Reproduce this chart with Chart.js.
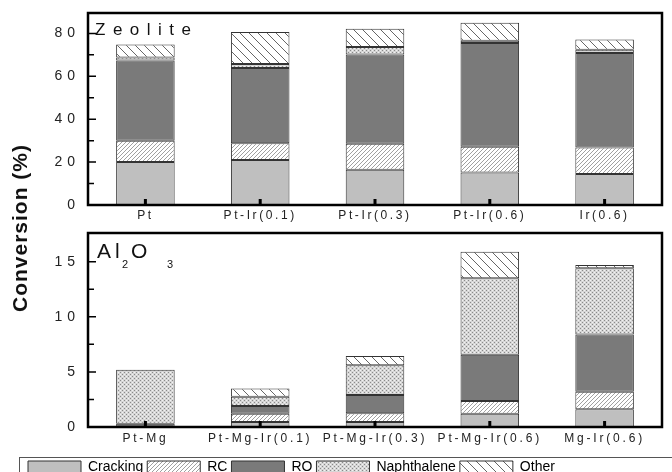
<!DOCTYPE html>
<html>
<head>
<meta charset="utf-8">
<script src="https://cdn.jsdelivr.net/npm/chart.js@4.4.1/dist/chart.umd.min.js"></script>
<style>
  html, body { margin: 0; padding: 0; background: #fff; overflow: hidden; width: 672px; height: 472px; }
  #wrap { position: relative; width: 672px; height: 472px; }
  #top { position: absolute; left: 0; top: 0; }
  #bottom { position: absolute; left: 0; top: 228px; }
  #ytitle {
    position: absolute; left: 20px; top: 228px;
    transform: translate(-50%, -50%) rotate(-90deg);
    font: bold 21px "Liberation Sans", Arial, sans-serif;
    letter-spacing: 1px; white-space: nowrap; color: #111;
  }
</style>
</head>
<body>
<div id="wrap">
  <canvas id="top" width="672" height="228"></canvas>
  <canvas id="bottom" width="672" height="256"></canvas>
  <div id="ytitle">Conversion (%)</div>
</div>
<script>
// zeolite supported catalysts (top panel)
const zeoliteCats = ["Pt", "Pt-Ir(0.1)", "Pt-Ir(0.3)", "Pt-Ir(0.6)", "Ir(0.6)"];
const zeoCracking    = [20.0, 21.0, 16.4, 15.1, 14.5];
const zeoRC          = [10.0,  7.8, 12.1, 12.1, 12.3];
const zeoRO          = [37.3, 35.1, 41.6, 48.3, 44.1];
const zeoNaphthalene = [ 1.5,  1.8,  3.6,  1.1,  1.5];
const zeoOther       = [ 6.0, 15.0,  8.4,  8.3,  4.7];

// alumina supported catalysts (bottom panel)
const aluminaCats = ["Pt-Mg", "Pt-Mg-Ir(0.1)", "Pt-Mg-Ir(0.3)", "Pt-Mg-Ir(0.6)", "Mg-Ir(0.6)"];
const aluCracking    = [0.0, 0.45, 0.45, 1.2, 1.6];
const aluRC          = [0.0, 0.75, 0.8,  1.15, 1.6];
const aluRO          = [0.3, 0.7,  1.65, 4.2, 5.2];
const aluNaphthalene = [4.9, 0.85, 2.7,  6.95, 6.0];
const aluOther       = [0.0, 0.75, 0.85, 2.4, 0.3];

const seriesNames = ["Cracking", "RC", "RO", "Naphthalene", "Other"];

const FONT = '"Liberation Sans", Arial, sans-serif';

// fill patterns
function hatch(size, forward, color) {
  const c = document.createElement("canvas");
  c.width = c.height = size;
  const g = c.getContext("2d");
  g.fillStyle = "#fff";
  g.fillRect(0, 0, size, size);
  g.strokeStyle = color;
  g.lineWidth = 1;
  g.beginPath();
  for (const o of [-size, 0, size]) {
    if (forward) { g.moveTo(o, size); g.lineTo(o + size, 0); }
    else { g.moveTo(o, 0); g.lineTo(o + size, size); }
  }
  g.stroke();
  return g.createPattern(c, "repeat");
}

function dots() {
  const c = document.createElement("canvas");
  c.width = c.height = 4;
  const g = c.getContext("2d");
  g.fillStyle = "#d6d6d6";
  g.fillRect(0, 0, 4, 4);
  g.fillStyle = "#8a8a8a";
  g.fillRect(0, 0, 1, 1); g.fillRect(2, 2, 1, 1);
  g.fillStyle = "#f2f2f2";
  g.fillRect(2, 0, 1, 1); g.fillRect(0, 2, 1, 1);
  return g.createPattern(c, "repeat");
}

const fills = ["#bfbfbf", hatch(4, true, "#a0a0a0"), "#7a7a7a", dots(), hatch(9, false, "#666")];

function makeDatasets(arrays) {
  return arrays.map((d, i) => ({
    label: seriesNames[i],
    data: d,
    backgroundColor: fills[i],
    borderColor: "#333",
    borderWidth: 1,
    borderSkipped: false,
    barPercentage: 0.51,
    categoryPercentage: 1
  }));
}

// fixed size axis + letter spaced tick labels
function axisFit(size, spacing) {
  return function (scale) {
    if (scale.isHorizontal()) scale.height = size; else scale.width = size;
    scale.paddingTop = scale.paddingBottom = 0;
    scale.paddingLeft = scale.paddingRight = 0;
    if (!scale._spaced) {
      const draw = scale.drawLabels.bind(scale);
      scale.drawLabels = function (area) {
        const c = scale.ctx;
        c.save();
        c.letterSpacing = spacing + "px";
        draw(area);
        c.restore();
      };
      scale._spaced = true;
    }
  };
}

// frame around plot and inward tick marks
const frameTicks = {
  id: "frameTicks",
  afterDraw(chart, args, opts) {
    const { ctx, chartArea: a, scales: { x, y } } = chart;
    ctx.save();
    ctx.strokeStyle = "#000";
    ctx.lineWidth = 1.5;
    ctx.beginPath();
    y.ticks.forEach(t => {
      const py = y.getPixelForValue(t.value);
      ctx.moveTo(a.left, py); ctx.lineTo(a.left + 8, py);
      const m = t.value + opts.minor;
      if (m < y.max - 0.3 * opts.minor) {
        const pm = y.getPixelForValue(m);
        ctx.moveTo(a.left, pm); ctx.lineTo(a.left + 6, pm);
      }
    });
    ctx.stroke();
    ctx.lineWidth = 3;
    ctx.beginPath();
    x.ticks.forEach((t, i) => {
      const px = x.getPixelForValue(i);
      ctx.moveTo(px, a.bottom); ctx.lineTo(px, a.bottom - 6);
    });
    ctx.stroke();
    ctx.lineWidth = 2.5;
    ctx.strokeRect(a.left, a.top, a.right - a.left, a.bottom - a.top);
    ctx.restore();
  }
};

function baseOptions(ymax, ystep, padding) {
  return {
    responsive: false,
    animation: false,
    events: [],
    devicePixelRatio: 1,
    layout: { padding, autoPadding: false },
    plugins: { legend: { display: false }, tooltip: { enabled: false } },
    scales: {
      x: {
        stacked: true,
        grid: { display: false, drawTicks: false },
        border: { display: false },
        ticks: { color: "#222", font: { family: FONT, size: 12 }, padding: 3, maxRotation: 0, autoSkip: false }
      },
      y: {
        stacked: true,
        min: 0, max: ymax,
        grid: { display: false, drawTicks: false },
        border: { display: false },
        ticks: { stepSize: ystep, includeBounds: false, color: "#222", font: { family: FONT, size: 14 }, padding: 8 }
      }
    }
  };
}

// top panel
const topOpts = baseOptions(89.5, 20, { top: 13, right: 10, left: 0, bottom: 0 });
topOpts.scales.x.afterFit = axisFit(23, 2.6);
topOpts.scales.y.afterFit = axisFit(88, 5);
topOpts.plugins.frameTicks = { minor: 10 };

new Chart(document.getElementById("top"), {
  type: "bar",
  data: {
    labels: zeoliteCats,
    datasets: makeDatasets([zeoCracking, zeoRC, zeoRO, zeoNaphthalene, zeoOther])
  },
  options: topOpts,
  plugins: [frameTicks, {
    id: "panelLabel",
    afterDraw(chart) {
      const ctx = chart.ctx;
      ctx.save();
      ctx.fillStyle = "#111";
      ctx.font = "17px " + FONT;
      ctx.letterSpacing = "7.5px";
      ctx.textBaseline = "alphabetic";
      ctx.fillText("Zeolite", 95, 35);
      ctx.restore();
    }
  }]
});

// bottom panel
const botOpts = baseOptions(17.6, 5, { top: 5, right: 10, left: 24, bottom: 0 });
botOpts.scales.x.afterFit = axisFit(29, 2.8);
botOpts.scales.x.ticks.padding = 4;
botOpts.scales.y.afterFit = axisFit(64, 5);
botOpts.plugins.frameTicks = { minor: 2.5 };
botOpts.plugins.legend = {
  display: true,
  position: "bottom",
  align: "start",
  labels: { boxWidth: 53, boxHeight: 12, padding: 4, color: "#000", font: { family: FONT, size: 14 } }
};

new Chart(document.getElementById("bottom"), {
  type: "bar",
  data: {
    labels: aluminaCats,
    datasets: makeDatasets([aluCracking, aluRC, aluRO, aluNaphthalene, aluOther])
  },
  options: botOpts,
  plugins: [frameTicks, {
    id: "panelLabel",
    afterDraw(chart) {
      const ctx = chart.ctx;
      const l = chart.legend;
      ctx.save();
      ctx.strokeStyle = "#555";
      ctx.lineWidth = 1;
      ctx.strokeRect(19.5, l.top + 1.5, 700, 60);
      ctx.fillStyle = "#111";
      ctx.textBaseline = "alphabetic";
      ctx.font = "21px " + FONT;
      ctx.fillText("A", 97, 30);
      ctx.fillText("l", 115, 30);
      ctx.fillText("O", 131, 30);
      ctx.font = "11px " + FONT;
      ctx.fillText("2", 122, 40);
      ctx.fillText("3", 167, 40);
      ctx.restore();
    }
  }]
});
</script>
</body>
</html>
